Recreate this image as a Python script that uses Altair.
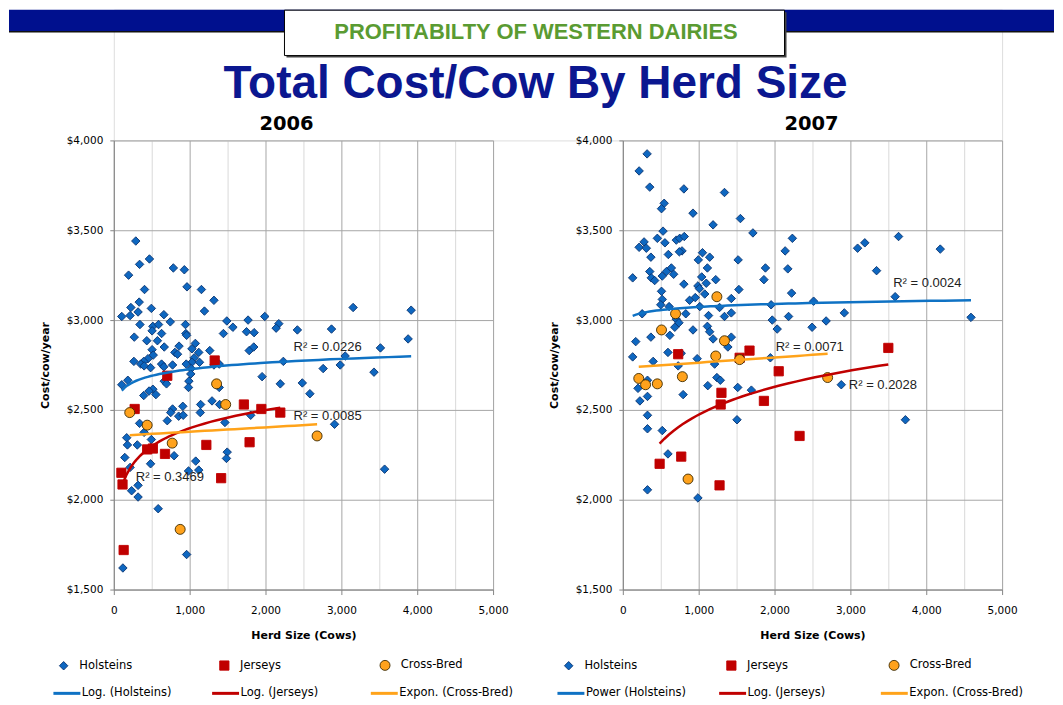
import altair as alt
import pandas as pd

# ---------------- 2006 panel data (herd size, cost per cow) ----------------
hol06 = [(290, 3440), (340, 3310), (470, 3340), (195, 3250), (785, 3290), (930, 3280), (965, 3185), (1155, 3170),
         (1320, 3110), (1195, 3050), (405, 3170), (335, 3100), (225, 3070), (320, 3045), (495, 3065), (105, 3020),
         (215, 3025), (660, 3030), (745, 2990), (345, 2975), (270, 2905), (515, 2965), (590, 2975), (630, 2925),
         (505, 2940), (945, 2975), (950, 2925), (960, 2915), (435, 2885), (575, 2885), (665, 2850), (860, 2855),
         (1075, 2870), (1030, 2840), (805, 2820), (840, 2810), (505, 2835), (1120, 2820), (1265, 2830), (520, 2805),
         (450, 2785), (1060, 2790), (265, 2770), (395, 2770), (355, 2755), (485, 2735), (400, 2745), (630, 2755),
         (660, 2740), (775, 2750), (1030, 2765), (1130, 2765), (1020, 2730), (1320, 2750), (1490, 2995), (1570, 2960),
         (1445, 2925), (1770, 3000), (1750, 2935), (1850, 2930), (1990, 3020), (2175, 2980), (2140, 2955), (2420, 2945),
         (1785, 2830), (1845, 2850), (2235, 2770), (3155, 3070), (3920, 3055), (2870, 2950), (3880, 2895), (3515, 2845),
         (3050, 2800), (2760, 2730), (2985, 2750), (3430, 2710), (2485, 2650), (2585, 2590), (2910, 2420), (3570, 2170),
         (1955, 2685), (2195, 2645), (1805, 2470), (1390, 2755), (955, 2755), (105, 2640), (185, 2665), (665, 2660),
         (695, 2645), (990, 2660), (1015, 2700), (985, 2625), (515, 2615), (465, 2605), (395, 2580), (555, 2585),
         (1390, 2625), (1295, 2550), (1145, 2530), (1140, 2485), (1395, 2530), (775, 2505), (910, 2520), (750, 2485),
         (855, 2465), (915, 2470), (705, 2440), (340, 2425), (1465, 2430), (400, 2375), (170, 2345), (180, 2305),
         (310, 2305), (495, 2335), (485, 2290), (795, 2245), (145, 2235), (215, 2180), (485, 2200), (985, 2160),
         (1080, 2215), (1120, 2165), (1495, 2265), (1485, 2230), (235, 2050), (320, 2080), (320, 2015), (585, 1950),
         (960, 1695), (120, 1620)]
jer06 = [(1330, 2775), (705, 2690), (275, 2505), (100, 2150), (115, 2085), (440, 2280), (515, 2285), (675, 2255),
         (1220, 2305), (1415, 2120), (1715, 2530), (1945, 2505), (2195, 2485), (1790, 2320), (130, 1720)]
crb06 = [(210, 2485), (440, 2415), (1355, 2645), (1475, 2530), (770, 2315), (875, 1835), (2680, 2355)]
r2_06_pos = [(2370, 2850), (2370, 2467), (290, 2128)]
r2_06_text = ["R² = 0.0226", "R² = 0.0085", "R² = 0.3469"]
trend06_names = ["Log. (Holsteins)", "Log. (Jerseys)", "Expon. (Cross-Bred)"]
trend06_methods = ["log", "log", "exp"]

# ---------------- 2007 panel data ----------------
hol07 = [(320, 3925), (215, 3830), (355, 3740), (805, 3730), (1340, 3710), (545, 3650), (510, 3620), (925, 3595),
         (1550, 3565), (1190, 3530), (1715, 3485), (530, 3495), (2235, 3455), (455, 3455), (280, 3435), (215, 3405),
         (310, 3400), (705, 3445), (750, 3455), (810, 3465), (555, 3430), (600, 3365), (370, 3350), (780, 3385),
         (745, 3380), (1050, 3375), (995, 3335), (1145, 3350), (1520, 3335), (2140, 3385), (2175, 3285), (1880, 3290),
         (1860, 3225), (2225, 3150), (1115, 3290), (355, 3270), (375, 3235), (420, 3220), (130, 3235), (520, 3245),
         (575, 3270), (640, 3290), (670, 3255), (1040, 3240), (1225, 3225), (1100, 3205), (805, 3200), (990, 3190),
         (1010, 3175), (510, 3160), (1080, 3145), (520, 3115), (955, 3125), (880, 3110), (1530, 3170), (1430, 3120),
         (1275, 3070), (500, 3085), (610, 3075), (1015, 3075), (1340, 3020), (1430, 3040), (1130, 3025), (830, 3035),
         (255, 3035), (1955, 3085), (2515, 3105), (2185, 3020), (1970, 3000), (2035, 2950), (2495, 2960), (2680, 2995),
         (705, 3005), (740, 2985), (685, 2960), (925, 2945), (1115, 2965), (1145, 2935), (620, 2915), (370, 2905),
         (1190, 2895), (1430, 2905), (1385, 2850), (170, 2880), (130, 2795), (400, 2770), (595, 2820), (770, 2815),
         (980, 2785), (1945, 2790), (730, 2745), (1210, 2755), (200, 2620), (325, 2665), (225, 2550), (325, 2575),
         (325, 2470), (325, 2395), (520, 2385), (595, 2255), (325, 2055), (990, 2010), (795, 2585), (1120, 2635),
         (1240, 2680), (1285, 2665), (1515, 2625), (1695, 2610), (1505, 2445), (3095, 3400), (3190, 3430), (3635, 3465),
         (4185, 3395), (3345, 3275), (3590, 3130), (2920, 3040), (4590, 3015), (2880, 2640), (3725, 2445)]
jer07 = [(730, 2810), (1540, 2790), (1670, 2830), (2055, 2715), (1300, 2595), (1290, 2530), (1860, 2550),
         (485, 2200), (770, 2240), (1275, 2080), (2330, 2355), (3500, 2845)]
crb07 = [(1240, 3130), (695, 3035), (510, 2945), (1340, 2885), (1225, 2800), (1540, 2780), (210, 2675),
         (300, 2640), (455, 2645), (785, 2685), (860, 2115), (2700, 2680)]
r2_07_pos = [(3565, 3207), (2015, 2850), (2980, 2639)]
r2_07_text = ["R² = 0.0024", "R² = 0.0071", "R² = 0.2028"]
trend07_names = ["Power (Holsteins)", "Log. (Jerseys)", "Expon. (Cross-Bred)"]
trend07_methods = ["pow", "log", "exp"]

breeds = ["Holsteins", "Jerseys", "Cross-Bred"]
x_ticks = [0, 500, 1000, 1500, 2000, 2500, 3000, 3500, 4000, 4500, 5000]
y_ticks = [1500, 2000, 2500, 3000, 3500, 4000]

# ---------------- styles ----------------
FILL = ["#0e67c0", "#c00000", "#ffa21c"]
STROKE = ["#0a3370", "#c00000", "#3d2a00"]
SHAPES = ["diamond", "square", "circle"]
SIZES = [72, 100, 90]
LINE_COLORS = ["#0f72c4", "#c00000", "#ffa31a"]
BAND_BLUE = "#00108e"
TITLE_BLUE = "#0b1790"
GREEN = "#5a9b32"
FONT = "DejaVu Sans"


def make_df(groups):
    rows = []
    for b, pts in zip(breeds, groups):
        for hx, cy in pts:
            rows.append({"Herd": hx, "Cost": cy, "Breed": b})
    return pd.DataFrame(rows)


def x_enc():
    return alt.X("Herd:Q", title="Herd Size (Cows)",
                 scale=alt.Scale(domain=[0, 5000], nice=False, zero=False),
                 axis=alt.Axis(values=x_ticks,
                               labelExpr="datum.value % 1000 === 0 ? format(datum.value, ',') : ''",
                               labelOverlap=False, labelFlush=False, labelFont=FONT, labelFontSize=10.5,
                               labelColor="#000", labelPadding=11, tickSize=5, tickColor="#868686",
                               tickOpacity={"condition": {"test": "datum.value % 1000 === 0", "value": 1}, "value": 0},
                               domainColor="#868686",
                               gridColor={"condition": {"test": "datum.value % 1000 === 0", "value": "#a6a6a6"},
                                          "value": "#d9d9d9"},
                               titleFont=FONT, titleFontSize=11, titleFontWeight="bold", titleColor="#000",
                               titlePadding=14))


def y_enc():
    return alt.Y("Cost:Q", title="Cost/cow/year",
                 scale=alt.Scale(domain=[1500, 4000], nice=False, zero=False),
                 axis=alt.Axis(values=y_ticks, format="$,.0f", labelFont=FONT, labelFontSize=10.5,
                               labelColor="#000", labelPadding=7, tickSize=4, tickColor="#868686",
                               domainColor="#868686", gridColor="#a6a6a6",
                               titleFont=FONT, titleFontSize=11, titleFontWeight="bold", titleColor="#000",
                               titlePadding=16))


def panel(groups, r2_pos, r2_text, trend_names, methods, title, title_dx, pts_leg_x, line_leg_x,
          pts_pad, line_pad):
    df = make_df(groups)
    r2df = pd.DataFrame({"Herd": [p[0] for p in r2_pos], "Cost": [p[1] for p in r2_pos], "label": r2_text})
    leg_pts = alt.Legend(title=None, orient="none", legendX=pts_leg_x, legendY=520, direction="horizontal",
                         columns=3, columnPadding=pts_pad, gridAlign="all", labelFont=FONT, labelFontSize=11.5,
                         labelColor="#000", labelOffset=10, padding=0, symbolStrokeWidth=0.9)
    leg_line = alt.Legend(title=None, orient="none", legendX=line_leg_x, legendY=539, direction="horizontal",
                          columns=3, columnPadding=line_pad, gridAlign="all", labelFont=FONT, labelFontSize=11.5,
                          labelColor="#000", labelOffset=0, padding=0, symbolType="stroke", symbolSize=729,
                          symbolStrokeWidth=3)
    base = alt.Chart(df)
    pts = base.mark_point(filled=True, opacity=1, strokeWidth=0.9).encode(
        x=x_enc(), y=y_enc(),
        fill=alt.Fill("Breed:N", scale=alt.Scale(domain=breeds, range=FILL), legend=leg_pts),
        stroke=alt.Stroke("Breed:N", scale=alt.Scale(domain=breeds, range=STROKE), legend=leg_pts),
        shape=alt.Shape("Breed:N", scale=alt.Scale(domain=breeds, range=SHAPES), legend=leg_pts),
        size=alt.Size("Breed:N", scale=alt.Scale(domain=breeds, range=SIZES), legend=leg_pts),
    )
    lines = []
    for b, m, name in zip(breeds, methods, trend_names):
        lines.append(
            base.transform_filter(alt.datum.Breed == b)
            .transform_regression("Herd", "Cost", method=m)
            .transform_calculate(Trend=f"'{name}'")
            .mark_line(strokeWidth=2.5)
            .encode(x=x_enc(), y=y_enc(),
                    color=alt.Color("Trend:N", scale=alt.Scale(domain=trend_names, range=LINE_COLORS),
                                    legend=leg_line))
        )
    txt = alt.Chart(r2df).mark_text(align="left", baseline="middle", font="Liberation Sans", fontSize=13,
                                    color="#222").encode(x=x_enc(), y=y_enc(), text="label:N")
    return alt.layer(pts, *lines, txt).properties(
        width=380, height=450,
        title=alt.TitleParams(title, font=FONT, fontSize=19.5, fontWeight="bold", color="#000",
                              anchor="middle", dx=title_dx, offset=1))


left = panel([hol06, jer06, crb06], r2_06_pos, r2_06_text, trend06_names, trend06_methods, "2006", -17,
             -56, -62, 75, 10)
right = panel([hol07, jer07, crb07], r2_07_pos, r2_07_text, trend07_names, trend07_methods, "2007", -1,
              -60, -67, 77, 13)

# ---------------- header ----------------
one = pd.DataFrame({"k": [0]})


def deco_rect(x, x2, y, y2, **kw):
    return alt.Chart(one).mark_rect(**kw).encode(x=alt.value(x), x2=alt.value(x2), y=alt.value(y), y2=alt.value(y2))


header = alt.layer(
    deco_rect(-105, 942, 0, 22, color=BAND_BLUE),
    deco_rect(-105, 942, 21.5, 23, color="#111"),
    deco_rect(173, 674, 2.5, 48, color="#444"),
    deco_rect(171, 672, 0.5, 46, fill="white", stroke="#000", strokeWidth=1),
    alt.Chart(one).mark_text(text="PROFITABILTY OF WESTERN DAIRIES", font="Liberation Sans", fontSize=22,
                             fontWeight="bold", color=GREEN, align="center", baseline="middle")
    .encode(x=alt.value(423), y=alt.value(22)),
    alt.Chart(one).mark_text(text="Total Cost/Cow By Herd Size", font="Liberation Sans", fontSize=46,
                             fontWeight="bold", color=TITLE_BLUE, align="center", baseline="alphabetic")
    .encode(x=alt.value(422.5), y=alt.value(89)),
).properties(width=890, height=131)

panels = alt.hconcat(left, right, spacing=130, bounds="flush").resolve_scale(
    x="independent", y="independent", fill="independent", stroke="independent", shape="independent",
    size="independent", color="independent"
).resolve_legend(fill="independent", stroke="independent", shape="independent", size="independent",
                 color="independent")

chart = alt.vconcat(header, panels, spacing=0, bounds="flush").properties(
    padding=0, background="white"
).configure_view(stroke=None).configure(font=FONT)

chart.save("out.html", embed_options={"renderer": "svg", "actions": False})
